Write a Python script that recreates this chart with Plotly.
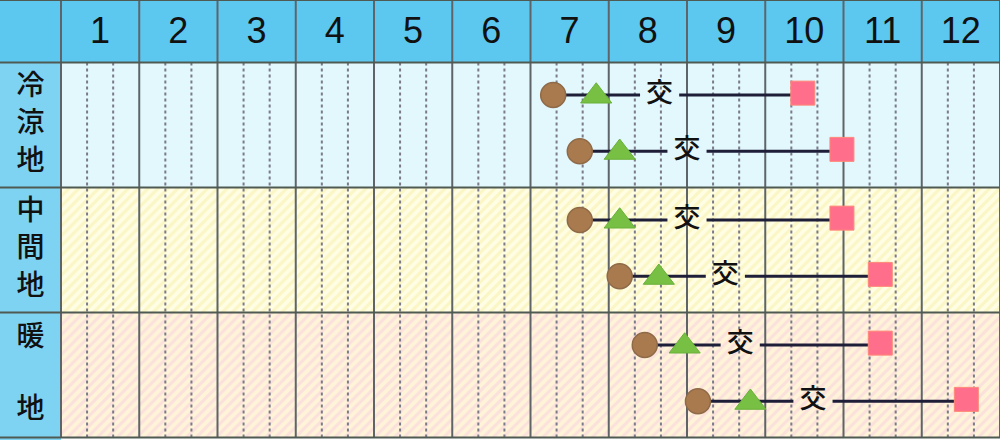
import plotly.graph_objects as go

# ---------------- data ----------------
months = [str(m) for m in range(1, 13)]
regions = ["冷涼地", "中間地", "暖地"]
row_region = [0, 0, 1, 1, 2, 2]        # region index of each schedule row
row_slot = [0, 1, 0, 1, 0, 1]          # upper / lower row inside region
sow = [6.29, 6.63, 6.63, 7.14, 7.46, 8.14]        # ● seeding (month units, 0 = start of Jan)
plant = [6.84, 7.14, 7.14, 7.64, 7.97, 8.81]      # ▲ planting
cross = [7.65, 8.00, 8.00, 8.49, 8.68, 9.61]      # 交 pollination
harvest = [9.48, 9.98, 9.98, 10.47, 10.47, 11.57]  # ■ harvest

# ---------------- styling ----------------
FONT_CJK = "Noto Sans CJK JP"
HEADER = "#5CC8F0"
LEFTCOL = "#7ED2F2"
region_bg = ["#E2F8FD", "#FFFDE4", "#FFF4D8"]
region_fg = ["#E2F8FD", "#F7EFA6", "#F8CEDF"]
LEFT_W = 61 / 78.25
Y_TOTAL = 440 / 62.5
slot_off = [-0.48, 0.42]

fig = go.Figure()

# region backgrounds (hatched bars)
for i, r in enumerate(regions):
    fig.add_trace(go.Bar(
        y=[2 * i + 2], x=[12], base=[0], width=[2], orientation="h",
        marker=dict(color=region_bg[i], line=dict(width=0),
                    pattern=dict(shape="" if i == 0 else "/", fgcolor=region_fg[i],
                                 bgcolor=region_bg[i], size=7, solidity=0.45)),
        hoverinfo="skip", showlegend=False))

# dotted third-of-month lines
dx, dy = [], []
for m in range(12):
    for f in (1 / 3, 2 / 3):
        dx += [m + f, m + f, None]
        dy += [1, 7, None]
fig.add_trace(go.Scatter(x=dx, y=dy, mode="lines",
                         line=dict(color="#7A7A88", width=2, dash="dot"),
                         hoverinfo="skip", showlegend=False))

# solid month lines
sx, sy = [], []
for m in range(13):
    sx += [m, m, None]
    sy += [0, 7, None]
fig.add_trace(go.Scatter(x=sx, y=sy, mode="lines",
                         line=dict(color="#5E6468", width=2),
                         hoverinfo="skip", showlegend=False))

# horizontal region lines
hx, hy = [], []
for yv in [0, 1, 3, 5, 7]:
    hx += [-LEFT_W, 12, None]
    hy += [yv, yv, None]
fig.add_trace(go.Scatter(x=hx, y=hy, mode="lines",
                         line=dict(color="#4E5A52", width=2.2),
                         hoverinfo="skip", showlegend=False))

# schedule rows
ys = [2 * row_region[i] + 2 + slot_off[row_slot[i]] for i in range(len(sow))]
gap = 0.25
lx, ly = [], []
for i in range(len(sow)):
    lx += [sow[i], cross[i] - gap, None, cross[i] + gap, harvest[i], None]
    ly += [ys[i], ys[i], None, ys[i], ys[i], None]
fig.add_trace(go.Scatter(x=lx, y=ly, mode="lines",
                         line=dict(color="#1E1E38", width=2.8),
                         hoverinfo="skip", showlegend=False))

fig.add_trace(go.Scatter(x=sow, y=ys, mode="markers",
                         marker=dict(symbol="circle", size=25, color="#A97A4E",
                                     line=dict(color="#8E6A48", width=1.5)),
                         hoverinfo="skip", showlegend=False))
fig.add_trace(go.Scatter(x=plant, y=[y + 0.02 for y in ys], mode="markers",
                         marker=dict(symbol="triangle-up", size=27, color="#78C043",
                                     line=dict(color="#69B03A", width=1)),
                         hoverinfo="skip", showlegend=False))
fig.add_trace(go.Scatter(x=cross, y=ys, mode="text", text=["交"] * len(cross),
                         textfont=dict(family=FONT_CJK, size=27, color="#111111", weight=500),
                         hoverinfo="skip", showlegend=False))
fig.add_trace(go.Scatter(x=harvest, y=[y - 0.03 for y in ys], mode="markers",
                         marker=dict(symbol="square", size=24, color="#FF6E8A",
                                     line=dict(color="#FF8A78", width=1)),
                         hoverinfo="skip", showlegend=False))

# header month numbers
fig.add_trace(go.Scatter(x=[m - 0.5 for m in range(1, 13)], y=[0.54] * 12,
                         mode="text", text=months,
                         textfont=dict(family="Liberation Sans", size=36, color="#111111"),
                         hoverinfo="skip", showlegend=False))

# region labels (stacked vertical characters)
cx, cy, ct = [], [], []
for i, r in enumerate(regions):
    center = 2 * i + 2
    n = len(r)
    step = 0.6 if n == 3 else 1.14
    for j, ch in enumerate(r):
        cx.append(-LEFT_W / 2)
        cy.append(center + (j - (n - 1) / 2) * step)
        ct.append(ch)
fig.add_trace(go.Scatter(x=cx, y=cy, mode="text", text=ct,
                         textfont=dict(family=FONT_CJK, size=28, color="#111111", weight=500),
                         hoverinfo="skip", showlegend=False))

fig.update_layout(
    width=1000, height=440,
    margin=dict(l=0, r=0, t=0, b=0),
    paper_bgcolor="#FFFFFF", plot_bgcolor="#FFFFFF",
    barmode="overlay", bargap=0,
    xaxis=dict(range=[-LEFT_W, 12], visible=False, fixedrange=True),
    yaxis=dict(range=[Y_TOTAL, 0], visible=False, fixedrange=True),
    shapes=[
        dict(type="rect", xref="x", yref="y", x0=-LEFT_W, x1=12, y0=0, y1=1,
             fillcolor=HEADER, line=dict(width=0), layer="below"),
        dict(type="rect", xref="x", yref="y", x0=-LEFT_W, x1=0, y0=1, y1=Y_TOTAL,
             fillcolor=LEFTCOL, line=dict(width=0), layer="below"),
    ],
)

fig.write_html("out.html", config={"displayModeBar": False},
               post_script="document.body.style.margin='0';document.body.style.overflow='hidden';")
